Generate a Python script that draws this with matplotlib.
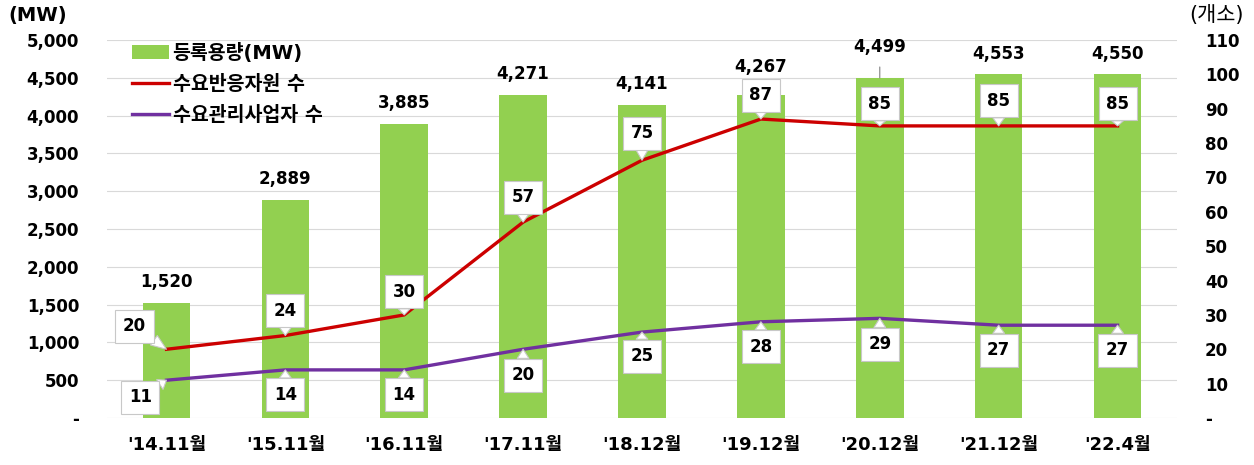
import matplotlib
matplotlib.use("Agg")
import matplotlib.pyplot as plt
import numpy as np
from matplotlib.ticker import FuncFormatter

plt.rcParams['font.family'] = ['DejaVu Sans', 'Noto Sans CJK KR']
plt.rcParams['font.weight'] = 'bold'

# data
periods = ["'14.11월", "'15.11월", "'16.11월", "'17.11월", "'18.12월",
           "'19.12월", "'20.12월", "'21.12월", "'22.4월"]
capacity = [1520, 2889, 3885, 4271, 4141, 4267, 4499, 4553, 4550]   # MW
resources = [20, 24, 30, 57, 75, 87, 85, 85, 85]                     # 수요반응자원 수
operators = [11, 14, 14, 20, 25, 28, 29, 27, 27]                     # 수요관리사업자 수

# label offsets in pixels (dx, dy)
cap_off = [21, 21, 21, 21, 21, 28, 31, 20, 20]
res_off = [(-32, 23), (0, 25), (0, 23), (0, 25), (0, 27), (0, 24), (0, 22), (0, 25), (0, 22)]
op_off = [(-26, -17), (0, -25), (0, -25), (0, -26), (0, -24), (0, -25), (0, -26), (0, -25), (0, -25)]

GREEN = '#92D050'
RED = '#CC0000'
PURPLE = '#7030A0'

fig = plt.figure(figsize=(12.54, 4.65), dpi=100)
ax = fig.add_axes([107/1254, 1-418/465, (1177-107)/1254, 378/465])
ax2 = ax.twinx()

x = np.arange(len(periods))
bars = ax.bar(x, capacity, width=0.4, color=GREEN, label='등록용량(MW)', zorder=2)
ax.set_xlim(-0.5, len(periods) - 0.5)
ax.set_ylim(0, 5000)
ax.set_yticks(np.arange(0, 5001, 500))
ax.yaxis.set_major_formatter(FuncFormatter(lambda v, p: '-' if v == 0 else f'{int(v):,}'))
ax.grid(axis='y', color='#d9d9d9', lw=0.8, zorder=0)
ax.set_axisbelow(True)

ax2.set_ylim(0, 110)
ax2.set_yticks(np.arange(0, 111, 10))
ax2.yaxis.set_major_formatter(FuncFormatter(lambda v, p: '-' if v == 0 else f'{int(v)}'))

for a in (ax, ax2):
    for s in a.spines.values():
        s.set_visible(False)
    a.tick_params(length=0, labelsize=12, pad=20)
ax.tick_params(axis='x', pad=13)
ax.set_xticks(x)
ax.set_xticklabels(periods, fontsize=13, fontweight='bold')

l1, = ax2.plot(x, resources, color=RED, lw=2.4, label='수요반응자원 수', zorder=3)
l2, = ax2.plot(x, operators, color=PURPLE, lw=2.4, label='수요관리사업자 수', zorder=3)

# bar labels
for i, v in enumerate(capacity):
    if i == 6:
        ax.annotate(f'{v:,}', (x[i], v), xytext=(0, cap_off[i]), textcoords='offset pixels',
                    ha='center', va='center', fontsize=12, fontweight='bold',
                    arrowprops=dict(arrowstyle='-', color='#808080', lw=0.8, shrinkA=6, shrinkB=0))
    else:
        ax.annotate(f'{v:,}', (x[i], v), xytext=(0, cap_off[i]), textcoords='offset pixels',
                    ha='center', va='center', fontsize=12, fontweight='bold')

box = dict(boxstyle='square,pad=0.45', fc='white', ec='#c8c8c8', lw=0.8)
arrow = dict(arrowstyle='wedge,tail_width=0.7,shrink_factor=0.5', fc='white', ec='#c8c8c8',
             lw=0.8, shrinkA=0, shrinkB=0)
for series, offs in ((resources, res_off), (operators, op_off)):
    for i, v in enumerate(series):
        ax2.annotate(str(v), (x[i], v), xytext=offs[i], textcoords='offset pixels',
                     ha='center', va='center', fontsize=12, fontweight='bold',
                     bbox=box, arrowprops=arrow, zorder=5)

fig.text(8/1254, 1-15/465, '(MW)', fontsize=14, fontweight='bold', ha='left', va='center')
fig.text(1244/1254, 1-15/465, '(개소)', fontsize=15, fontweight='normal', ha='right', va='center')

leg = ax.legend(handles=[bars, l1, l2], loc='upper left', bbox_to_anchor=(122/1254, 1-33/465),
                bbox_transform=fig.transFigure, frameon=False,
                prop={'size': 14, 'weight': 'bold'},
                handlelength=1.9, handletextpad=0.2, labelspacing=0.62, borderpad=0)

fig.savefig('out.png', dpi=100)
